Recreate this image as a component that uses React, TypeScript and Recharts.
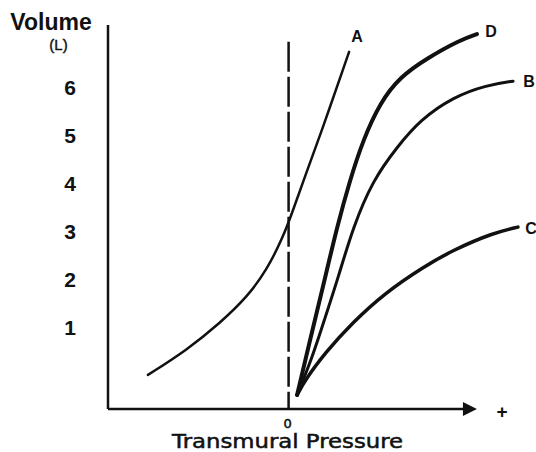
import React from "react";
import { LineChart, Line, XAxis, YAxis, ReferenceLine } from "recharts";

// transmural pressure (arbitrary units, 0 = dashed line) and volume (L)
const pressureA = [-7.79, -5.63, -3.8, -2.3, -1.2, -0.31, 0.19, 0.91, 1.74, 3.35];
const volumeA = [0.01, 0.53, 1.09, 1.63, 2.2, 2.88, 3.38, 4.15, 4.99, 6.74];

const pressureD = [0.47, 1.24, 2.02, 2.68, 3.4, 4.12, 5.06, 6.17, 7.67, 9.5, 10.43];
const volumeD = [-0.41, 0.82, 2.03, 3.09, 4.07, 4.9, 5.68, 6.22, 6.61, 6.99, 7.11];

const pressureB = [0.47, 1.3, 2.02, 2.74, 3.57, 4.67, 6.01, 7.28, 9.1, 10.99, 12.43];
const volumeB = [-0.41, 0.36, 1.2, 2.03, 3.09, 4.07, 4.76, 5.32, 5.8, 6.05, 6.13];

const pressureC = [0.47, 0.91, 2.02, 3.51, 5.34, 7.46, 9.1, 11.33, 12.7];
const volumeC = [-0.41, -0.1, 0.47, 1.09, 1.72, 2.26, 2.61, 2.97, 3.09];

const volumeTicks = [1, 2, 3, 4, 5, 6];
const pressureTicks = [0];

const zip = (p: number[], v: number[]) => p.map((x, i) => ({ p: x, v: v[i] }));

const curves = [
  { name: "A", data: zip(pressureA, volumeA), width: 2.5, dx: 8, dy: -15 },
  { name: "D", data: zip(pressureD, volumeD), width: 4, dx: 14, dy: -3 },
  { name: "B", data: zip(pressureB, volumeB), width: 3, dx: 16, dy: 0 },
  { name: "C", data: zip(pressureC, volumeC), width: 3.5, dx: 13, dy: 1 },
];

const INK = "#111";
const SANS = "'Liberation Sans', Arial, sans-serif";
const DEJAVU = "'DejaVu Sans', sans-serif";

function endLabel(name: string, n: number, dx: number, dy: number) {
  return (props: any) => {
    if (props.index !== n - 1) return null;
    return (
      <text
        x={props.x + dx}
        y={props.y + dy}
        textAnchor="middle"
        dominantBaseline="central"
        fontFamily={SANS}
        fontWeight="bold"
        fontSize={16}
        fill={INK}
      >
        {name}
      </text>
    );
  };
}

function VolumeTick({ x, y, payload }: any) {
  return (
    <text
      x={x - 38}
      y={y}
      textAnchor="middle"
      dominantBaseline="central"
      fontFamily={SANS}
      fontWeight="bold"
      fontSize={21}
      fill={INK}
    >
      {payload.value}
    </text>
  );
}

function PressureTick({ x, y, payload }: any) {
  return (
    <g>
      <text
        x={x - 1}
        y={y + 14}
        textAnchor="middle"
        dominantBaseline="central"
        fontFamily={DEJAVU}
        fontSize={13}
        stroke={INK}
        strokeWidth={0.5}
        fill={INK}
      >
        {payload.value}
      </text>
      <text
        x={x - 1}
        y={y + 39}
        textAnchor="middle"
        fontFamily={DEJAVU}
        fontSize={19}
        textLength={231}
        lengthAdjust="spacingAndGlyphs"
        stroke={INK}
        strokeWidth={0.5}
        fill={INK}
      >
        Transmural Pressure
      </text>
    </g>
  );
}

function AxisArrow(props: any) {
  const { x1, y1, x2 } = props;
  return (
    <g>
      <line x1={x1} y1={y1} x2={x2 - 10} y2={y1} stroke={INK} strokeWidth={2.5} />
      <polygon points={`${x2 - 14},${y1 - 7} ${x2},${y1} ${x2 - 14},${y1 + 7}`} fill={INK} />
      <text
        x={x2 + 25}
        y={y1 + 2}
        textAnchor="middle"
        dominantBaseline="central"
        fontFamily={SANS}
        fontWeight="bold"
        fontSize={19}
        fill={INK}
      >
        +
      </text>
    </g>
  );
}

function VolumeTitle() {
  return (
    <g>
      <text x={51} y={30} textAnchor="middle" fontFamily={SANS} fontWeight="bold" fontSize={23} fill={INK}>
        Volume
      </text>
      <text
        x={58.5}
        y={50}
        textAnchor="middle"
        fontFamily={SANS}
        fontSize={15}
        stroke={INK}
        strokeWidth={0.4}
        fill={INK}
      >
        (L)
      </text>
    </g>
  );
}

export default function App() {
  return (
    <div style={{ position: "absolute", left: 0, top: 0, background: "#fff" }}>
      <LineChart width={536} height={452} margin={{ top: 25, right: 0, left: 48, bottom: 13 }}>
        <XAxis
          type="number"
          dataKey="p"
          domain={[-10, 13.7]}
          ticks={pressureTicks}
          axisLine={false}
          tickLine={false}
          height={30}
          tickSize={0}
          tickMargin={0}
          tick={<PressureTick />}
          allowDataOverflow
        />
        <YAxis
          type="number"
          dataKey="v"
          domain={[-0.7, 7.3]}
          ticks={volumeTicks}
          width={60}
          axisLine={{ stroke: INK, strokeWidth: 2.5 }}
          tickLine={false}
          tickSize={0}
          tickMargin={0}
          tick={<VolumeTick />}
          label={{ content: () => <VolumeTitle /> }}
          allowDataOverflow
        />
        <ReferenceLine
          segment={[
            { x: 0, y: 6.95 },
            { x: 0, y: -0.7 },
          ]}
          stroke={INK}
          strokeWidth={2.5}
          strokeDasharray="30 5"
          ifOverflow="visible"
        />
        <ReferenceLine
          segment={[
            { x: -10, y: -0.7 },
            { x: 10.43, y: -0.7 },
          ]}
          shape={<AxisArrow />}
          ifOverflow="visible"
        />
        {curves.map((c) => (
          <Line
            key={c.name}
            data={c.data}
            dataKey="v"
            type="basis"
            stroke={INK}
            strokeWidth={c.width}
            strokeLinecap="round"
            strokeLinejoin="round"
            dot={false}
            activeDot={false}
            isAnimationActive={false}
            label={endLabel(c.name, c.data.length, c.dx, c.dy)}
          />
        ))}
      </LineChart>
    </div>
  );
}
